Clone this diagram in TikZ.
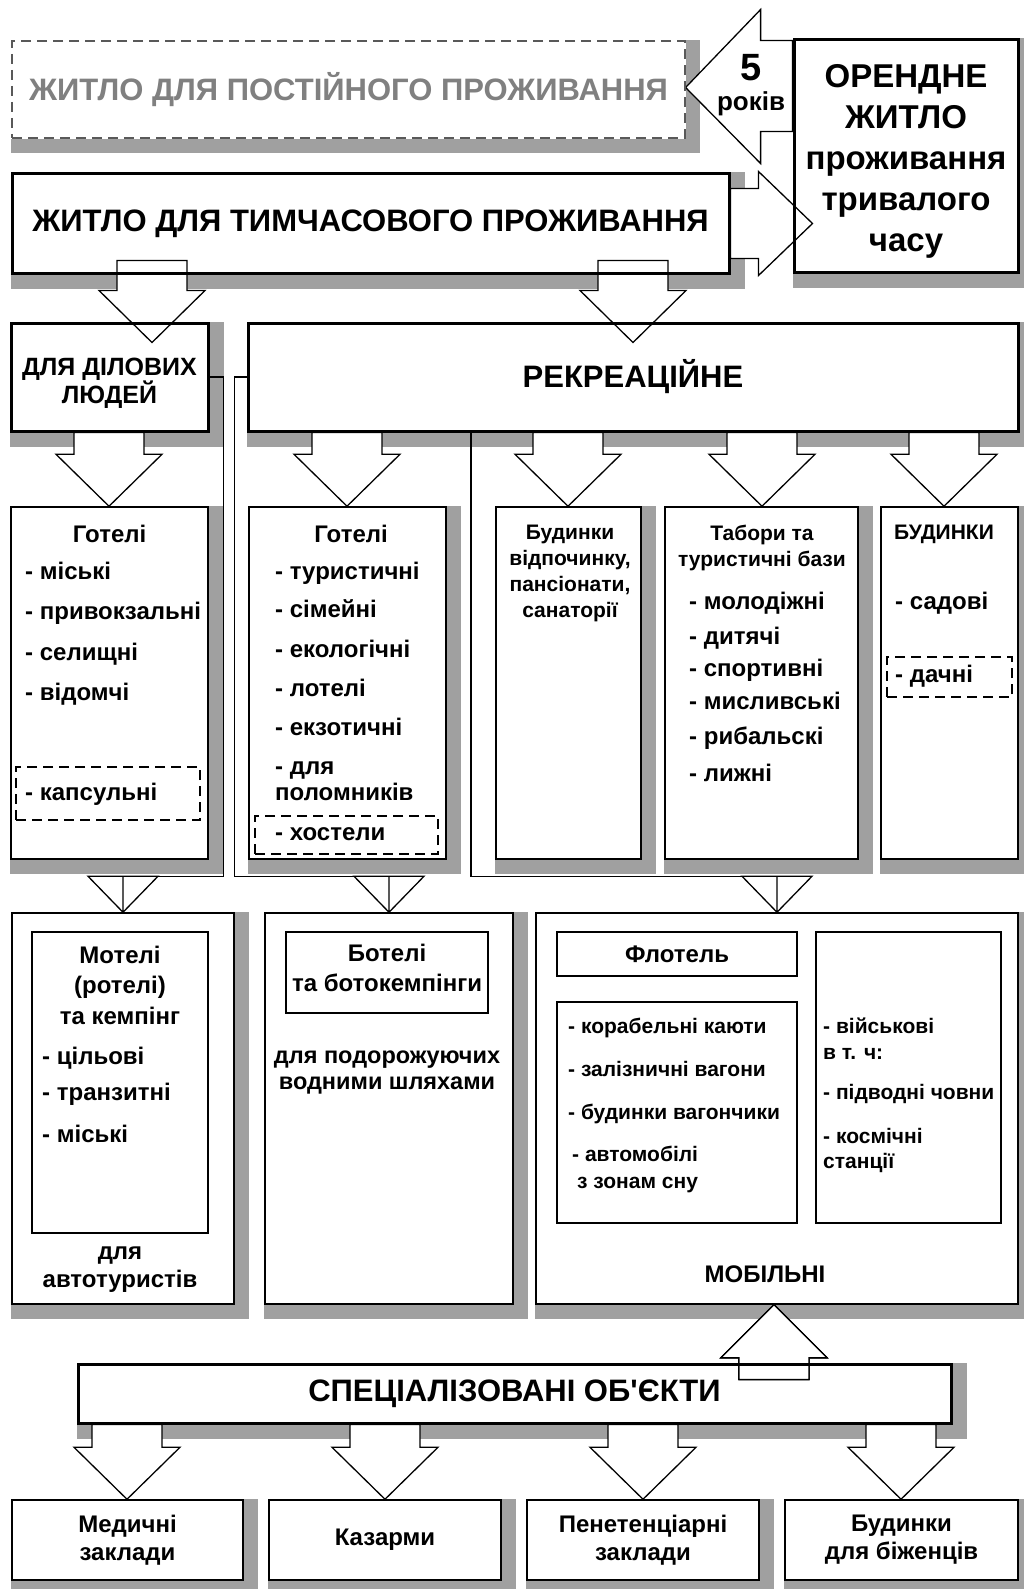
\documentclass[tikz,border=0pt]{standalone}
\usepackage{fontspec}
\setmainfont{Liberation Sans}
\usetikzlibrary{calc}

\definecolor{shadowgray}{RGB}{160,160,160}
\definecolor{permgray}{RGB}{128,128,128}

\pgfdeclarelayer{shadows}
\pgfdeclarelayer{fills}
\pgfdeclarelayer{arrows}
\pgfsetlayers{shadows,fills,arrows,main}

\tikzset{x=1pt, y=-1pt,
    box/.style={draw, line width=1.5pt, inner sep=0pt},
    mainbox/.style={box, line width=3pt},
    innerbox/.style={box, line width=1.2pt},
    dashbox/.style={draw, line width=1.2pt, dash pattern=on 10pt off 6pt, inner sep=0pt},
    blockarrow/.style={draw, fill=white, line width=1.3pt},
    link/.style={line width=1.3pt},
    bigtxt/.style={font=\fontsize{31}{36}\selectfont\bfseries},
    renttxt/.style={font=\fontsize{33}{41}\selectfont\bfseries, align=center},
    midtxt/.style={font=\fontsize{24}{28}\selectfont\bfseries, align=center},
    smalltxt/.style={font=\fontsize{21}{26}\selectfont\bfseries, align=center},
    itemtxt/.style={font=\fontsize{24}{28}\selectfont\bfseries, anchor=mid west, inner sep=0pt, yshift=-5pt},
    mobtxt/.style={font=\fontsize{21}{26}\selectfont\bfseries, anchor=mid west, inner sep=0pt, yshift=-4pt},
}

% hollow block arrow pointing down: x, from, to, shaft start above from.south, tip below to.north
\newcommand{\downblock}[5]{%
  \draw[blockarrow] let \p1=(#2.south), \p2=(#3.north) in
    (#1pt-35pt,\y1+#4pt) -- (#1pt-35pt,\y2-#5pt+52pt) -- (#1pt-53pt,\y2-#5pt+52pt)
    -- (#1pt,\y2-#5pt) -- (#1pt+53pt,\y2-#5pt+52pt) -- (#1pt+35pt,\y2-#5pt+52pt)
    -- (#1pt+35pt,\y1+#4pt) -- cycle;}

\begin{document}
\begin{tikzpicture}
\useasboundingbox (0,0) rectangle (1023,1589);

% top
\node[dashbox, draw=black!65, text=permgray, bigtxt, minimum width=673pt, minimum height=97pt] (perm) at (348.5,89.5) {ЖИТЛО ДЛЯ ПОСТІЙНОГО ПРОЖИВАННЯ};
\node[mainbox, minimum width=224pt, minimum height=232pt] (rent) at (906,156) {};
\node[renttxt] (renttext) at (906,161) {ОРЕНДНЕ\\ЖИТЛО\\проживання\\тривалого\\часу};
\node[mainbox, bigtxt, minimum width=717pt, minimum height=99pt] (temp) at (370.5,223.5) {ЖИТЛО ДЛЯ ТИМЧАСОВОГО ПРОЖИВАННЯ};
\node[font=\fontsize{38}{40}\selectfont\bfseries] (five) at (751,68) {5};
\node[font=\fontsize{26}{28}\selectfont\bfseries] (years) at (751,104) {років};

% second level
\node[mainbox, minimum width=197pt, minimum height=108pt] (biz) at (109.5,377) {};
\node[midtxt, font=\fontsize{25}{28}\selectfont\bfseries] (biztxt) at (109.5,383) {ДЛЯ ДІЛОВИХ\\ЛЮДЕЙ};
\node[mainbox, bigtxt, minimum width=770pt, minimum height=108pt] (recr) at (633,377) {РЕКРЕАЦІЙНЕ};

% third level
\node[box, minimum width=197pt, minimum height=352pt] (hot1) at (109.5,683) {};
\node[box, minimum width=197pt, minimum height=352pt] (hot2) at (347.5,683) {};
\node[box, minimum width=145pt, minimum height=352pt] (rest) at (568.5,683) {};
\node[box, minimum width=193pt, minimum height=352pt] (camp) at (761.5,683) {};
\node[box, minimum width=137pt, minimum height=352pt] (houses) at (949.5,683) {};

\node[midtxt] (hot1head) at (109.5,534) {Готелі};
\foreach \w/\y in {міські/572, привокзальні/612, селищні/653, відомчі/693}
  \node[itemtxt] (hot1-\y) at (25,\y) {- \w};
\node[dashbox, minimum width=184pt, minimum height=53pt] (capsule) at (108,793.5) {};
\node[itemtxt] (capsuletxt) at (25,793) {- капсульні};

\node[midtxt] (hot2head) at (351,534) {Готелі};
\foreach \w/\y in {туристичні/572, сімейні/610, екологічні/650, лотелі/689, екзотичні/728, для/767}
  \node[itemtxt] (hot2-\y) at (275,\y) {- \w};
\node[itemtxt] (hot2-793) at (275,793) {поломників};
\node[dashbox, minimum width=183pt, minimum height=38pt] (hostel) at (346.5,835) {};
\node[itemtxt] (hosteltxt) at (275,833) {- хостели};

\node[smalltxt] (resttxt) at (570,573) {Будинки\\відпочинку,\\пансіонати,\\санаторії};

\node[smalltxt] (camphead) at (762,548) {Табори та\\туристичні бази};
\foreach \w/\y in {молодіжні/602, дитячі/637, спортивні/669, мисливські/702, рибальскі/737, лижні/774}
  \node[itemtxt] (camp-\y) at (689,\y) {- \w};

\node[smalltxt] (househead) at (944,534) {БУДИНКИ};
\node[itemtxt] (garden) at (895,602) {- садові};
\node[dashbox, minimum width=125pt, minimum height=40pt] (dacha) at (949.5,677) {};
\node[itemtxt] (dachatxt) at (895,675) {- дачні};

% fourth level
\node[box, minimum width=222pt, minimum height=391pt] (motel) at (123,1108.5) {};
\node[innerbox, minimum width=176pt, minimum height=301pt] (motelin) at (120,1082.5) {};
\node[font=\fontsize{24}{30.5}\selectfont\bfseries, align=center] (motelhead) at (120,985) {Мотелі\\(ротелі)\\та кемпінг};
\foreach \w/\y in {цільові/1057, транзитні/1093, міські/1135}
  \node[itemtxt] (motel-\y) at (42,\y) {- \w};
\node[midtxt] (autotxt) at (120,1270) {для\\автотуристів};

\node[box, minimum width=248pt, minimum height=391pt] (boat) at (389,1108.5) {};
\node[innerbox, minimum width=202pt, minimum height=81pt] (boatin) at (387,972.5) {};
\node[font=\fontsize{24}{30}\selectfont\bfseries, align=center] (boattxt) at (387,968) {Ботелі\\та ботокемпінги};
\node[font=\fontsize{23.5}{26}\selectfont\bfseries, align=center] (watertxt) at (387,1072) {для подорожуючих\\водними шляхами};

\node[box, minimum width=482pt, minimum height=391pt] (mob) at (777,1108.5) {};
\node[innerbox, midtxt, minimum width=240pt, minimum height=44pt] (flotel) at (677,954) {Флотель};
\node[innerbox, minimum width=240pt, minimum height=221pt] (moblist) at (677,1112.5) {};
\node[innerbox, minimum width=185pt, minimum height=291pt] (milit) at (908.5,1077.5) {};
\node[mobtxt] (cabins) at (568,1027) {- корабельні каюти};
\node[mobtxt] (wagons) at (568,1070) {- залізничні вагони};
\node[mobtxt] (trailers) at (568,1113) {- будинки вагончики};
\node[mobtxt] (cars) at (572,1155) {- автомобілі};
\node[mobtxt] (cars2) at (577,1182) {з зонам сну};
\node[mobtxt] (army) at (823,1027) {- військові};
\node[mobtxt] (army2) at (823,1053) {в т. ч:};
\node[mobtxt] (subs) at (823,1093) {- підводні човни};
\node[mobtxt] (space) at (823,1137) {- космічні};
\node[mobtxt] (space2) at (823,1162) {станції};
\node[midtxt] (mobtxt) at (765,1274) {МОБІЛЬНІ};

% bottom
\node[mainbox, bigtxt, minimum width=873pt, minimum height=59pt] (spec) at (514.5,1393.5) {СПЕЦІАЛІЗОВАНІ ОБ\textquotesingle ЄКТИ};
\node[box, midtxt, minimum width=231pt, minimum height=80pt] (med) at (127.5,1540) {Медичні\\заклади};
\node[box, midtxt, minimum width=232pt, minimum height=80pt] (bar) at (385,1540) {Казарми};
\node[box, midtxt, minimum width=232pt, minimum height=80pt] (pris) at (643,1540) {Пенетенціарні\\заклади};
\node[box, midtxt, minimum width=233pt, minimum height=80pt] (refug) at (901.5,1540) {Будинки\\для біженців};

% shadows and box fills
\begin{pgfonlayer}{shadows}
  \fill[white] (0,0) rectangle (1023,1589);
  \foreach \nm in {perm,rent,temp,biz,recr,hot1,hot2,rest,camp,houses,motel,boat,mob,spec,med,bar,pris,refug}
    \fill[shadowgray] (\nm.north west) rectangle ([xshift=14pt,yshift=-14pt]\nm.south east);
\end{pgfonlayer}
\begin{pgfonlayer}{fills}
  \foreach \nm in {perm,rent,temp,biz,recr,hot1,hot2,rest,camp,houses,motel,boat,mob,spec,med,bar,pris,refug}
    \fill[white] (\nm.north west) rectangle (\nm.south east);
\end{pgfonlayer}

% block arrows
\begin{pgfonlayer}{arrows}
\draw[blockarrow] let \p1=(perm.east), \p2=(rent.west) in
  (\x2,\y1+49pt) -- (\x1+75pt,\y1+49pt) -- (\x1+75pt,\y1+80pt) -- (\x1,\y1+2pt)
  -- (\x1+75pt,\y1-74pt) -- (\x1+75pt,\y1-42pt) -- (\x2,\y1-42pt) -- cycle;
\draw[blockarrow] let \p1=(temp.east), \p2=(rent.west) in
  (\x1,\y1+35pt) -- (\x2-34pt,\y1+35pt) -- (\x2-34pt,\y1+52pt) -- (\x2+20pt,\y1)
  -- (\x2-34pt,\y1-52pt) -- (\x2-34pt,\y1-35pt) -- (\x1,\y1-35pt) -- cycle;
\downblock{152}{temp}{biz}{14}{21}
\downblock{633}{temp}{recr}{14}{21}
\downblock{109}{biz}{hot1}{0}{0}
\downblock{347}{recr}{hot2}{0}{0}
\downblock{568}{recr}{rest}{0}{0}
\downblock{762}{recr}{camp}{0}{0}
\downblock{944}{recr}{houses}{0}{0}
\foreach \ax/\nm in {127/med,385/bar,643/pris,901/refug}
  \downblock{\ax}{spec}{\nm}{0}{0}
\draw[blockarrow] let \p1=(spec.north), \p2=(mob.south) in
  (739pt,\y1-17pt) -- (739pt,\y2-53pt) -- (721pt,\y2-53pt) -- (774pt,\y2)
  -- (827pt,\y2-53pt) -- (809pt,\y2-53pt) -- (809pt,\y1-17pt) -- cycle;
\end{pgfonlayer}

% links down to the fourth level
\draw[link] (biz.east) -- ++(14,0) |- ([xshift=-35pt,yshift=36pt]motel.north);
\draw[link] (recr.west) -- ++(-12,0) |- ([xshift=35pt,yshift=36pt]boat.north);
\draw[link] ([xshift=-162pt]recr.south) |- ([xshift=35pt,yshift=36pt]mob.north);
\foreach \nm in {motel,boat,mob}
  \draw[link] (\nm.north) -- ++(-35,-36) -- ++(70,0) -- cycle (\nm.north) -- ++(0,-36);

\end{tikzpicture}
\end{document}
